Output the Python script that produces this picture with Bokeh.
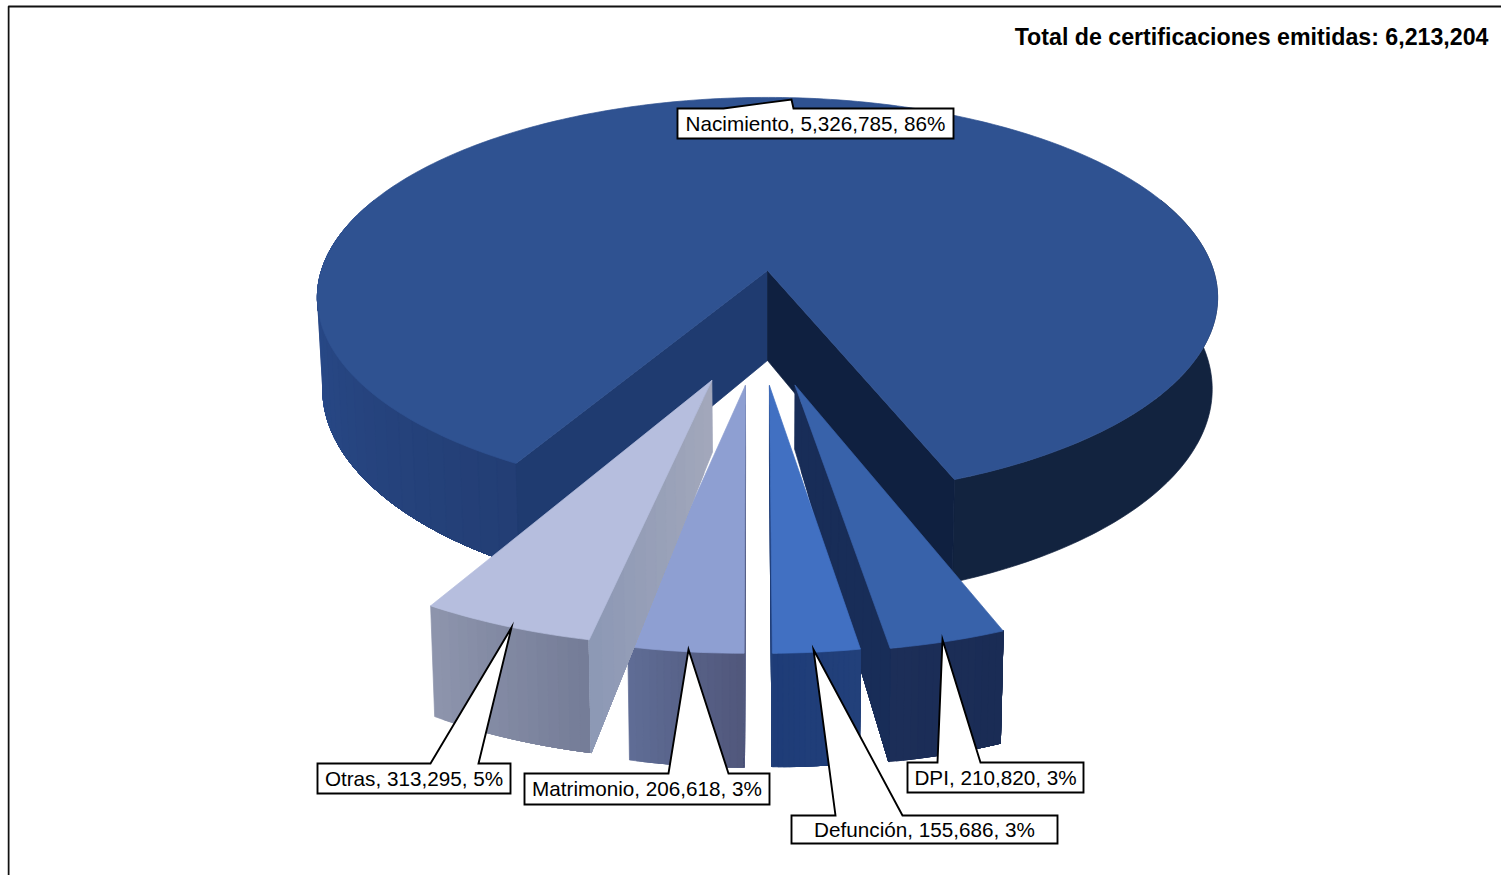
import math
from bokeh.plotting import figure
from bokeh.models import Range1d
from bokeh.core.properties import value
from bokeh.embed import file_html
from bokeh.resources import INLINE

# ---- data ----
categories = ["Nacimiento", "Otras", "Matrimonio", "Defunción", "DPI"]
amounts = [5326785, 313295, 206618, 155686, 210820]
percents = [86, 5, 3, 3, 3]
total_text = "Total de certificaciones emitidas: 6,213,204"

# ---- styling per slice ----
top_colors = ["#2F5291", "#B6BEDE", "#8E9FD2", "#4170C2", "#3862AA"]
wall_from = ["#2B4F93", "#8E95AD", "#5F6D96", "#1E3C78", "#1C2E58"]
wall_to = ["#233E74", "#747C97", "#51577B", "#22407A", "#1A2C55"]
face_from = ["#1F3B70", "#A3A8BB", "#5F6D96", "#1E3C78", "#182D58"]
face_to = ["#1F3B70", "#8C98B5", "#51577B", "#22407A", "#182D58"]
right_wall = "#12233F"
right_face = "#0F2040"
# slice displacement on the pie's plane
shift_u = [0.0, -0.116, -0.046, 0.004, 0.057]
shift_v = [0.0, 0.52, 0.5425, 0.5425, 0.54]
# how deep a cut face is at the slice's tip, relative to its rim
tip_depth = [1.0, 0.74, 0.74, 0.74, 0.66]

# ---- callouts: box left, right, top, bottom, pointer polygon ----
boxes = [(677, 953, 108, 138), (317, 510, 763, 793), (524, 769, 773, 804),
         (791, 1057, 815, 843), (907, 1083, 762, 792)]
pointers = [[(723, 108), (791, 99), (793, 108)],
            [(430, 763), (511, 627), (478, 763)],
            [(668, 773), (688, 649), (728, 773)],
            [(835, 815), (813, 649), (902, 815)],
            [(937, 762), (942, 639), (980, 762)]]

# ---- projection of the tilted disc ----
CX, R, K, A, B, D, XS = 767.0, 446.0, 0.135, 160.0, 270.0, 90.0, 0.988
START = 21.5

def proj(u, v, low=0.0):
    w = 1 - K * v
    x = CX + R * u / w
    y = (A * v + B) / w
    if low:
        x = CX + (x - CX) * XS
        y += low * D / w
    return x, y

def rim(theta, su=0.0, sv=0.0, low=0.0):
    t = math.radians(theta)
    return proj(su + math.sin(t), sv + math.cos(t), low)

def mix(c1, c2, f):
    a = [int(c1[i:i + 2], 16) for i in (1, 3, 5)]
    b = [int(c2[i:i + 2], 16) for i in (1, 3, 5)]
    return "#%02x%02x%02x" % tuple(round(p + (q - p) * f) for p, q in zip(a, b))

p = figure(width=1494, height=871, x_range=Range1d(7, 1501), y_range=Range1d(875, 4),
           output_backend="svg", toolbar_location=None, min_border=0,
           styles={"position": "absolute", "left": "7px", "top": "4px"},
           outline_line_color=None, background_fill_color="white",
           border_fill_color="white")
p.xaxis.visible = False
p.yaxis.visible = False
p.grid.visible = False

xs_all, ys_all, col_all = [], [], []

def add(points, color):
    xs_all.append([q[0] for q in points])
    ys_all.append([q[1] for q in points])
    col_all.append(color)

def wall(t0, t1, su, sv, c0, c1, n):
    # each band runs on to the far end, so neighbouring bands leave no seam
    for i in range(n):
        a = t0 + (t1 - t0) * i / n
        m = max(2, int(abs(t1 - a)) + 1)
        arc = [a + (t1 - a) * j / m for j in range(m + 1)]
        add([rim(q, su, sv) for q in arc] + [rim(q, su, sv, 1.0) for q in reversed(arc)],
            mix(c0, c1, (i + 0.5) / n))

def face(theta, su, sv, c0, c1, tip=1.0, n=12):
    t = math.radians(theta)
    for i in range(n):
        f0 = i / n
        pts = [proj(su + f0 * math.sin(t), sv + f0 * math.cos(t)),
               proj(su + math.sin(t), sv + math.cos(t)),
               proj(su + math.sin(t), sv + math.cos(t), 1.0),
               proj(su + f0 * math.sin(t), sv + f0 * math.cos(t), tip + (1 - tip) * f0)]
        add(pts, mix(c0, c1, (i + 0.5) / n))

def top(t0, t1, su, sv, color):
    n = max(4, int(abs(t1 - t0)))
    pts = [proj(su, sv)] + [rim(t0 + (t1 - t0) * i / n, su, sv) for i in range(n + 1)]
    add(pts, color)

total = sum(amounts)
spans = [a / total * 360 for a in amounts]
angles = [START]
for s in spans:
    angles.append(angles[-1] + s)
main0, main1 = angles[0], angles[1]

# main slice
wall(main0, 112, 0, 0, right_wall, right_wall, 1)
wall(248, main1, 0, 0, wall_from[0], wall_to[0], 30)
face(main1, 0, 0, face_from[0], face_to[0], 1.0, 1)
face(main0, 0, 0, right_face, right_face, 1.0, 1)
top(main0, main1, 0, 0, top_colors[0])

# exploded slices, back to front: DPI, Defunción, Matrimonio, Otras
for i in (4, 3, 2, 1):
    t0, t1 = angles[i] - 360, angles[i + 1] - 360
    su, sv = shift_u[i], shift_v[i]
    wall(t0, t1, su, sv, wall_from[i], wall_to[i], 16)
    if (t0 + t1) / 2 < 0:
        face(t1, su, sv, face_from[i], face_to[i], tip_depth[i])
    else:
        face(t0, su, sv, face_from[i], face_to[i], tip_depth[i])
    top(t0, t1, su, sv, top_colors[i])

p.patches(xs_all, ys_all, fill_color=col_all, line_color=col_all, line_width=0.7)

# frame of the picture
p.line([8, 8, 1501], [875, 6, 6], line_color="#111111", line_width=2)

# callouts
cx, cy, labels = [], [], []
for i, cat in enumerate(categories):
    l, r, t, b = boxes[i]
    a, tip, c = pointers[i]
    xs = [l, a[0], tip[0], c[0], r, r, l]
    ys = [t, t, tip[1], t, t, b, b]
    p.patch(xs, ys, fill_color="white", line_color="black", line_width=1.9, line_join="miter")
    cx.append((l + r) / 2)
    cy.append((t + b) / 2 - 0.5)
    labels.append(f"{cat}, {amounts[i]:,}, {percents[i]}%")

p.text(cx, cy, text=labels, text_font=value("Liberation Sans"), text_font_size="20.7px",
       text_align="center", text_baseline="middle", text_color="black")
p.text([1488], [36], text=[total_text], text_font=value("Liberation Sans"),
       text_font_size="23.2px", text_font_style="bold", text_align="right",
       text_baseline="middle", text_color="black")

open("out.html", "w").write(file_html(p, INLINE))
